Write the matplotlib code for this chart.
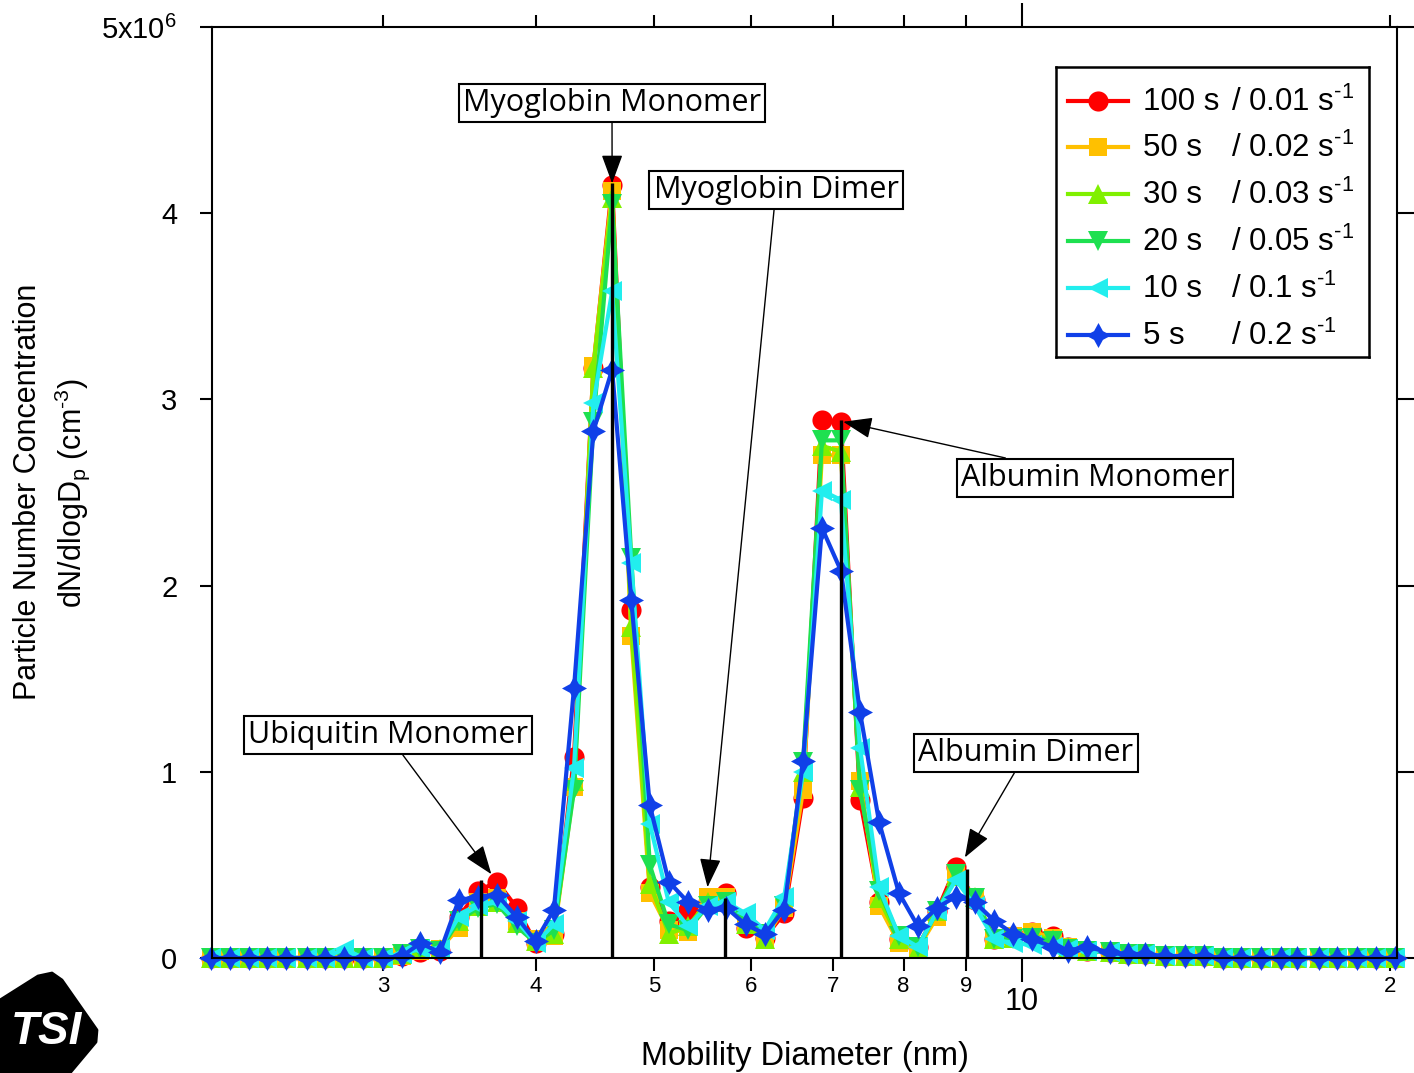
import matplotlib
matplotlib.use("Agg")
import matplotlib.pyplot as plt
from matplotlib.patches import Polygon
import numpy as np

plt.rcParams['font.family'] = ['Liberation Sans', 'DejaVu Sans']
plt.rcParams['mathtext.fontset'] = 'custom'
plt.rcParams['mathtext.rm'] = 'Liberation Sans'
plt.rcParams['mathtext.it'] = 'Liberation Sans:italic'
plt.rcParams['mathtext.bf'] = 'Liberation Sans:bold'
plt.rcParams['axes.unicode_minus'] = False

# SMPS channel mid-point mobility diameters (nm)
diameters = [2.17, 2.25, 2.33, 2.41, 2.50, 2.60, 2.69, 2.79, 2.89, 3.00,
             3.11, 3.22, 3.34, 3.46, 3.59, 3.72, 3.86, 4.00, 4.14, 4.30,
             4.46, 4.62, 4.79, 4.96, 5.14, 5.33, 5.53, 5.73, 5.94, 6.16,
             6.39, 6.62, 6.86, 7.11, 7.37, 7.64, 7.93, 8.22, 8.52, 8.83,
             9.15, 9.49, 9.84, 10.2, 10.6, 10.9, 11.3, 11.8, 12.2, 12.6,
             13.1, 13.6, 14.1, 14.6, 15.1, 15.7, 16.3, 16.8, 17.5, 18.1,
             18.8, 19.5, 20.2]

# dN/dlogDp in units of 1e6 cm^-3
conc_100s = [0, 0, 0, 0, 0, 0, 0, 0, 0, 0,
             0.01, 0.03, 0.04, 0.22, 0.36, 0.41, 0.27, 0.08, 0.13, 1.08,
             3.17, 4.15, 1.87, 0.38, 0.20, 0.26, 0.30, 0.35, 0.16, 0.11,
             0.24, 0.86, 2.89, 2.88, 0.85, 0.30, 0.10, 0.06, 0.25, 0.49,
             0.31, 0.10, 0.12, 0.14, 0.12, 0.06, 0.04, 0.03, 0.02, 0.02,
             0.01, 0.01, 0.01, 0, 0, 0, 0, 0, 0, 0,
             0, 0, 0]
conc_50s = [0, 0, 0, 0, 0, 0, 0, 0, 0, 0,
            0.01, 0.04, 0.05, 0.16, 0.30, 0.32, 0.20, 0.10, 0.12, 0.92,
            3.18, 4.12, 1.73, 0.35, 0.15, 0.14, 0.33, 0.33, 0.18, 0.10,
            0.27, 0.90, 2.70, 2.70, 0.95, 0.28, 0.08, 0.05, 0.22, 0.45,
            0.33, 0.10, 0.12, 0.14, 0.11, 0.06, 0.04, 0.03, 0.02, 0.02,
            0.01, 0.01, 0.01, 0, 0, 0, 0, 0, 0, 0,
            0, 0, 0]
conc_30s = [0, 0, 0, 0, 0, 0, 0, 0, 0, 0,
            0.02, 0.05, 0.05, 0.20, 0.28, 0.30, 0.19, 0.09, 0.13, 0.95,
            3.17, 4.08, 1.78, 0.40, 0.13, 0.17, 0.30, 0.30, 0.18, 0.10,
            0.30, 1.00, 2.75, 2.72, 0.92, 0.32, 0.10, 0.05, 0.25, 0.44,
            0.33, 0.10, 0.11, 0.12, 0.10, 0.06, 0.04, 0.03, 0.02, 0.02,
            0.01, 0.01, 0.01, 0, 0, 0, 0, 0, 0, 0,
            0, 0, 0]
conc_20s = [0, 0, 0, 0, 0, 0, 0, 0, 0, 0,
            0.02, 0.05, 0.04, 0.20, 0.27, 0.29, 0.17, 0.08, 0.15, 0.90,
            2.88, 4.05, 2.15, 0.50, 0.18, 0.15, 0.28, 0.30, 0.20, 0.13,
            0.28, 1.05, 2.78, 2.78, 0.90, 0.36, 0.12, 0.06, 0.25, 0.45,
            0.32, 0.10, 0.10, 0.11, 0.09, 0.05, 0.04, 0.03, 0.02, 0.02,
            0.01, 0.01, 0.01, 0, 0, 0, 0, 0, 0, 0,
            0, 0, 0]
conc_10s = [0, 0, 0, 0, 0, 0, 0, 0.05, 0, 0,
            0.02, 0.05, 0.05, 0.22, 0.28, 0.30, 0.20, 0.08, 0.18, 1.02,
            2.98, 3.58, 2.12, 0.72, 0.30, 0.17, 0.28, 0.30, 0.24, 0.15,
            0.33, 1.00, 2.51, 2.46, 1.13, 0.38, 0.12, 0.06, 0.25, 0.42,
            0.28, 0.10, 0.08, 0.07, 0.06, 0.05, 0.04, 0.03, 0.02, 0.02,
            0.01, 0.01, 0.01, 0, 0, 0, 0, 0, 0, 0,
            0, 0, 0]
conc_5s = [0, 0, 0, 0, 0, 0, 0, 0, 0, 0,
           0.01, 0.08, 0.03, 0.31, 0.33, 0.34, 0.22, 0.09, 0.26, 1.45,
           2.83, 3.16, 1.92, 0.82, 0.41, 0.30, 0.26, 0.27, 0.18, 0.13,
           0.26, 1.06, 2.31, 2.08, 1.32, 0.73, 0.35, 0.17, 0.27, 0.33,
           0.30, 0.20, 0.13, 0.10, 0.06, 0.04, 0.06, 0.03, 0.02, 0.02,
           0.01, 0.01, 0.01, 0, 0, 0, 0, 0, 0, 0,
           0, 0, 0]

series_time = ["100 s", "50 s", "30 s", "20 s", "10 s", "5 s"]
series_rate = ["0.01", "0.02", "0.03", "0.05", "0.1", "0.2"]
series_data = [conc_100s, conc_50s, conc_30s, conc_20s, conc_10s, conc_5s]
series_color = ['#FF0000', '#FFC000', '#80F000', '#1EE050', '#22EEEE', '#1040E8']
star4 = (4, 1, 0)
series_marker = ['o', 's', '^', 'v', '<', star4]
series_msize = [14.5, 13, 14.5, 14.5, 14.5, 18]

# Peak reference lines: diameter (nm), height (1e6 cm^-3)
peak_names = ["Ubiquitin Monomer", "Myoglobin Monomer", "Myoglobin Dimer",
              "Albumin Monomer", "Albumin Dimer"]
peak_diam = [3.61, 4.62, 5.71, 7.11, 9.02]
peak_height = [0.42, 4.16, 0.32, 2.89, 0.48]
# arrow tips (nm, 1e6 cm^-3)
arrow_diam = [3.68, 4.62, 5.53, 7.14, 8.98]
arrow_height = [0.45, 4.16, 0.38, 2.88, 0.54]

W, H = 1414, 1073
fig = plt.figure(figsize=(W / 100, H / 100), dpi=100)

def fx(px):
    return px / W

def fy(py):
    return 1 - py / H

ax_l, ax_r, ax_t, ax_b = 212, 1397, 27, 958
ax = fig.add_axes([fx(ax_l), fy(ax_b), (ax_r - ax_l) / W, (ax_b - ax_t) / H])
ax.set_xscale('log')
ax.set_xlim(2.174, 20.27)
ax.set_ylim(0, 5)

for i, (vals, col, mk, ms) in enumerate(zip(series_data, series_color,
                                             series_marker, series_msize)):
    ax.plot(diameters, vals, color=col, lw=3, marker=mk, ms=ms,
            mew=0, clip_on=False, zorder=2 + i * 0.1)

ax.vlines(peak_diam, 0, peak_height, color='black', lw=2.4, zorder=5)

# label boxes (axes-fraction centres)
box_pos = [((388 - ax_l) / 1185, (ax_b - 735) / 931),
           ((612 - ax_l) / 1185, (ax_b - 103) / 931),
           ((776 - ax_l) / 1185, (ax_b - 190) / 931),
           ((1095 - ax_l) / 1185, (ax_b - 478) / 931),
           ((1026 - ax_l) / 1185, (ax_b - 753) / 931)]
for name, xd, yd, pos in zip(peak_names, arrow_diam, arrow_height, box_pos):
    ax.annotate(name, xy=(xd, yd), xycoords='data',
                xytext=pos, textcoords='axes fraction',
                ha='center', va='center', fontsize=22, family='Open Sans',
                bbox=dict(boxstyle='square,pad=0.14', fc='white', ec='black', lw=1.5),
                arrowprops=dict(arrowstyle='-|>,head_length=0.6,head_width=0.22',
                                mutation_scale=30, color='black', lw=1.0,
                                shrinkA=0, shrinkB=0),
                zorder=6)

# axes styling
for s in ax.spines.values():
    s.set_linewidth(1.5)
ax.set_xticks([10])
ax.set_xticklabels(["10"], fontsize=22)
ax.set_xticks([3, 4, 5, 6, 7, 8, 9, 20], minor=True)
ax.set_xticklabels(["3", "4", "5", "6", "7", "8", "9", "2"], minor=True, fontsize=16)
ax.tick_params(axis='x', which='major', direction='out', length=17, width=1.5,
               top=True, bottom=True, labeltop=False, pad=4)
ax.tick_params(axis='x', which='minor', direction='out', length=9, width=1.5,
               top=True, bottom=True, labeltop=False, pad=4)
ax.set_yticks([0, 1, 2, 3, 4, 5])
ax.set_yticklabels(["0", "1", "2", "3", "4", "5x10$^{6}$"], fontsize=21)
ax.tick_params(axis='y', which='major', direction='out', length=9, width=1.5,
               left=True, right=True, labelright=False, pad=16)
for t in ax.yaxis.get_major_ticks():
    t.tick2line.set_markersize(12)
ax.yaxis.set_minor_locator(matplotlib.ticker.NullLocator())

fig.text(fx(805), fy(1057), "Mobility Diameter (nm)", ha='center', va='center',
         fontsize=23.5)
fig.text(fx(28), fy(492), "Particle Number Concentration", rotation=90,
         ha='center', va='center', fontsize=22)
fig.text(fx(72), fy(493), "dN/dlogD$_\\mathrm{p}$ (cm$^{\u2010 3}$)", rotation=90,
         ha='center', va='center', fontsize=22)

# legend panel
lg = fig.add_axes([fx(1056), fy(357), (1369 - 1056) / W, (357 - 67) / H])
lg.set_xlim(1056, 1369)
lg.set_ylim(357, 67)
lg.set_xticks([])
lg.set_yticks([])
for s in lg.spines.values():
    s.set_linewidth(1.8)
rows_y = [101, 147, 194, 241, 288, 335]
for ry, t, r, col, mk, ms in zip(rows_y, series_time, series_rate, series_color,
                                 series_marker, series_msize):
    lg.plot([1068, 1128], [ry, ry], color=col, lw=3)
    lg.plot([1098], [ry], color=col, marker=mk, ms=ms, mew=0)
    lg.text(1143, ry + 1, t, ha='left', va='center', fontsize=22.5)
    lg.text(1231, ry + 1, "/ " + r + " s$^{\u2010 1}$", ha='left', va='center',
            fontsize=22.5)

# logo
lo = fig.add_axes([0, 0, 100 / W, 103 / H])
lo.set_xlim(0, 100)
lo.set_ylim(1073, 970)
lo.axis('off')
lo.add_patch(Polygon([(0, 1000), (38, 976), (52, 973), (62, 980), (97, 1030),
                      (96, 1042), (70, 1073), (0, 1073)], closed=True,
                     fc='black', ec='black', lw=2, joinstyle='round'))
lo.text(46, 1032, "TSI", color='white', fontsize=33, fontweight='bold',
        fontstyle='italic', ha='center', va='center')

fig.savefig("out.png", dpi=100)
